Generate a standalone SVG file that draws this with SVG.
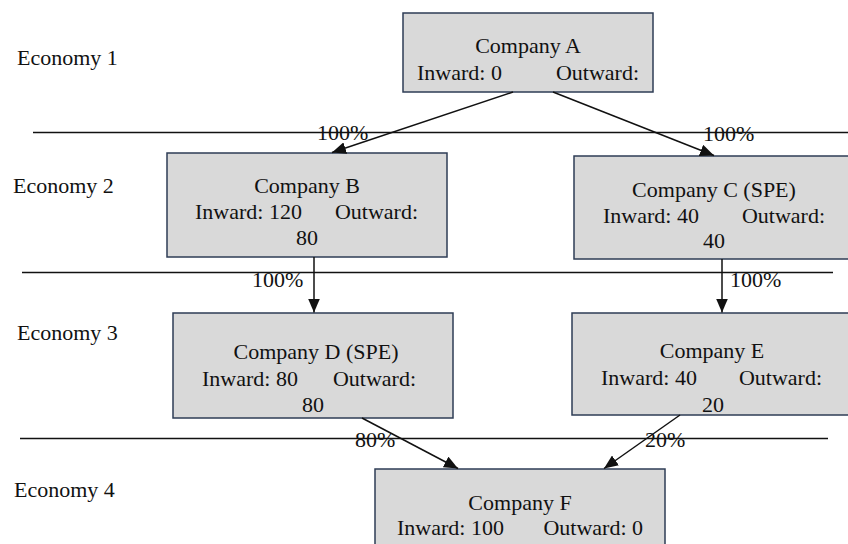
<svg xmlns="http://www.w3.org/2000/svg" width="848" height="544" viewBox="0 0 848 544">
<style>
.c{text-anchor:middle}
.e{text-anchor:end}
.box{fill:#d9d9d9;stroke:#2e3d55;stroke-width:1.5}
.sep{stroke:#111;stroke-width:1.3;fill:none}
.arr{stroke:#111;stroke-width:1.5;fill:none;marker-end:url(#ah)}
</style>
<defs>
<marker id="ah" markerUnits="userSpaceOnUse" markerWidth="16" markerHeight="12" refX="14" refY="6" orient="auto">
<path d="M0,0 L14,6 L0,12 Z" fill="#111"/>
</marker>
</defs>
<rect width="848" height="544" fill="#fff"/>
<g font-family="'Liberation Serif', 'Times New Roman', serif" font-size="22" fill="#111">
<g id="economies">
<text x="17" y="65">Economy 1</text>
<text x="13" y="193">Economy 2</text>
<text x="17" y="340">Economy 3</text>
<text x="14" y="497">Economy 4</text>
</g>
<g id="separators">
<line class="sep" x1="33" y1="132.5" x2="848" y2="132.5"/>
<line class="sep" x1="22" y1="272.5" x2="833" y2="272.5"/>
<line class="sep" x1="20" y1="438.5" x2="828" y2="438.5"/>
</g>
<g id="nodeA">
<rect class="box" x="403" y="13" width="250" height="79"/>
<text class="c" x="528" y="53">Company A</text>
<text x="417" y="80">Inward: 0</text>
<text class="e" x="639" y="80">Outward:</text>
</g>
<g id="nodeB">
<rect class="box" x="167" y="153" width="280" height="104"/>
<text class="c" x="307" y="193">Company B</text>
<text x="195" y="219">Inward: 120</text>
<text class="e" x="418" y="219">Outward:</text>
<text class="c" x="307" y="245">80</text>
</g>
<g id="nodeC">
<rect class="box" x="574" y="156" width="290" height="103"/>
<text class="c" x="714" y="197">Company C (SPE)</text>
<text x="603" y="223">Inward: 40</text>
<text class="e" x="825" y="223">Outward:</text>
<text class="c" x="714" y="248">40</text>
</g>
<g id="nodeD">
<rect class="box" x="173" y="313" width="280" height="105"/>
<text class="c" x="316" y="359">Company D (SPE)</text>
<text x="202" y="386">Inward: 80</text>
<text class="e" x="416" y="386">Outward:</text>
<text class="c" x="313" y="412">80</text>
</g>
<g id="nodeE">
<rect class="box" x="572" y="313" width="290" height="102"/>
<text class="c" x="712" y="358">Company E</text>
<text x="601" y="385">Inward: 40</text>
<text class="e" x="822" y="385">Outward:</text>
<text class="c" x="713" y="412">20</text>
</g>
<g id="nodeF">
<rect class="box" x="375" y="469" width="290" height="90"/>
<text class="c" x="520" y="510">Company F</text>
<text x="397" y="535">Inward: 100</text>
<text class="e" x="643" y="535">Outward: 0</text>
</g>
<g id="connectors">
<line class="arr" x1="513" y1="92" x2="332" y2="152.5"/>
<line class="arr" x1="553" y1="92" x2="714" y2="155.5"/>
<line class="arr" x1="314" y1="257" x2="314" y2="312.5"/>
<line class="arr" x1="722" y1="259" x2="722" y2="312.5"/>
<line class="arr" x1="362" y1="418" x2="458" y2="468.5"/>
<line class="arr" x1="680" y1="415" x2="604" y2="468.5"/>
<text x="317" y="140">100%</text>
<text x="703" y="141">100%</text>
<text x="252" y="287">100%</text>
<text x="730" y="287">100%</text>
<text x="355" y="447">80%</text>
<text x="645" y="447">20%</text>
</g>
</g>
</svg>
